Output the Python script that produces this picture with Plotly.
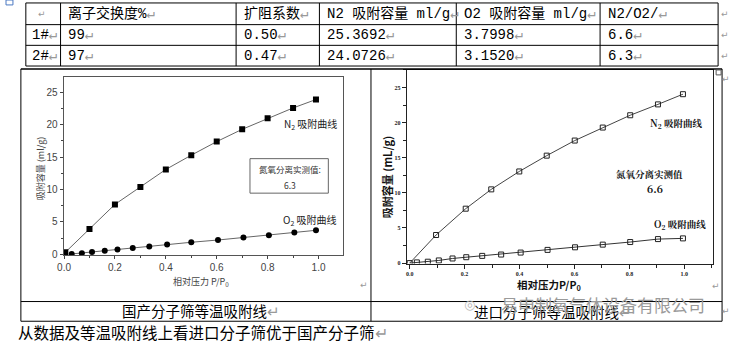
import plotly.graph_objects as go

W, H = 731, 343

# ---- table data ----
table_header = ["离子交换度%", "扩阻系数", "N2 吸附容量 ml/g", "O2 吸附容量 ml/g", "N2/O2/"]
row_labels = ["1#", "2#"]
exchange_pct = ["99", "97"]
diffusion_coef = ["0.50", "0.47"]
n2_capacity = ["25.3692", "24.0726"]
o2_capacity = ["3.7998", "3.1520"]
n2_o2_ratio = ["6.6", "6.3"]

# ---- isotherm data: domestic sieve ----
dom_n2_x = [0.005, 0.1, 0.2, 0.3, 0.4, 0.5, 0.6, 0.7, 0.8, 0.9, 0.99]
dom_n2_y = [0.3, 3.9, 7.7, 10.4, 13.1, 15.3, 17.4, 19.3, 21.0, 22.6, 23.9]
dom_o2_x = [0.03, 0.07, 0.11, 0.16, 0.21, 0.27, 0.335, 0.405, 0.5, 0.605, 0.705, 0.805, 0.905, 0.99]
dom_o2_y = [0.05, 0.15, 0.35, 0.55, 0.75, 0.95, 1.2, 1.5, 1.85, 2.2, 2.6, 2.95, 3.35, 3.7]

# ---- isotherm data: imported sieve ----
imp_n2_x = [0.0, 0.096, 0.204, 0.297, 0.399, 0.499, 0.601, 0.703, 0.803, 0.904, 0.995]
imp_n2_y = [0.0, 4.0, 7.75, 10.5, 13.05, 15.3, 17.45, 19.3, 21.05, 22.6, 24.05]
imp_o2_x = [0.0, 0.026, 0.066, 0.106, 0.156, 0.206, 0.264, 0.333, 0.404, 0.502, 0.602, 0.703, 0.803, 0.904, 0.995]
imp_o2_y = [0.0, 0.1, 0.2, 0.38, 0.66, 0.84, 1.03, 1.22, 1.5, 1.88, 2.25, 2.63, 3.0, 3.42, 3.52]

x_ticks = [0.0, 0.2, 0.4, 0.6, 0.8, 1.0]
y_ticks = [0, 5, 10, 15, 20, 25]


def px(x):
    return x / W


def py(y):
    return 1 - y / H


fig = go.Figure()

# domestic chart
fig.add_trace(go.Scatter(x=dom_n2_x, y=dom_n2_y, mode="lines+markers", line=dict(color="#666", width=1),
                         marker=dict(symbol="square", size=6, color="black"), xaxis="x", yaxis="y",
                         showlegend=False))
fig.add_trace(go.Scatter(x=dom_o2_x, y=dom_o2_y, mode="lines+markers", line=dict(color="#666", width=1),
                         marker=dict(symbol="circle", size=6, color="black"), xaxis="x", yaxis="y",
                         showlegend=False))
# imported chart
fig.add_trace(go.Scatter(x=imp_n2_x, y=imp_n2_y, mode="lines+markers", line=dict(color="#444", width=1),
                         marker=dict(symbol="square-open", size=5, color="#222", line=dict(width=1)),
                         xaxis="x2", yaxis="y2", showlegend=False))
fig.add_trace(go.Scatter(x=imp_o2_x, y=imp_o2_y, mode="lines+markers", line=dict(color="#333", width=1),
                         marker=dict(symbol="square-open", size=5, color="#222", line=dict(width=1),
                                     opacity=[0] + [1] * (len(imp_o2_x) - 1)),
                         xaxis="x2", yaxis="y2", showlegend=False))

sans_tick = dict(family="Arial, Liberation Sans, sans-serif", size=10, color="#444")
serif_tick = dict(family="Liberation Serif, serif", size=6, color="#222", weight="bold")

fig.update_layout(
    width=W, height=H, margin=dict(l=0, r=0, t=0, b=0),
    paper_bgcolor="white", plot_bgcolor="white",
    xaxis=dict(domain=[px(58), px(340)], range=[-0.002, 1.097], tickvals=x_ticks,
               ticktext=[f"{v:.1f}" for v in x_ticks], ticks="outside", ticklen=3, tickcolor="#444",
               minor=dict(dtick=0.1, tick0=0, ticks="outside", ticklen=2, tickcolor="#444"),
               showline=True, linecolor="#555", linewidth=1, mirror=True, showgrid=False, zeroline=False,
               tickfont=sans_tick, anchor="y"),
    yaxis=dict(domain=[py(259), py(78)], range=[-0.15, 27.4], tickvals=y_ticks, ticks="outside", ticklen=3,
               tickcolor="#444", minor=dict(dtick=2.5, tick0=0, ticks="outside", ticklen=2, tickcolor="#444"),
               showline=True, linecolor="#555", linewidth=1, mirror=True, showgrid=False, zeroline=False,
               tickfont=sans_tick, anchor="x"),
    xaxis2=dict(domain=[px(404), px(713)], range=[-0.011, 1.105], tickvals=x_ticks,
                ticktext=[f"{v:.1f}" for v in x_ticks], ticks="outside", ticklen=4, tickcolor="#222",
                minor=dict(dtick=0.1, tick0=0, ticks="outside", ticklen=3, tickcolor="#222"),
                showline=True, linecolor="#222", linewidth=1, mirror=True, showgrid=False, zeroline=False,
                tickfont=serif_tick, anchor="y2"),
    yaxis2=dict(domain=[py(267.5), py(71)], range=[-0.07, 27.5], tickvals=y_ticks, ticks="outside", ticklen=4,
                tickcolor="#222", minor=dict(dtick=2.5, tick0=0, ticks="outside", ticklen=3, tickcolor="#222"),
                showline=True, linecolor="#222", linewidth=1, mirror=True, showgrid=False, zeroline=False,
                tickfont=serif_tick, anchor="x2"),
)

# ---- table grid ----
shapes = []


def hline(x0, x1, y, w=1):
    shapes.append(dict(type="line", xref="paper", yref="paper", x0=px(x0), x1=px(x1), y0=py(y), y1=py(y),
                       line=dict(color="black", width=w)))


def vline(x, y0, y1, w=1):
    shapes.append(dict(type="line", xref="paper", yref="paper", x0=px(x), x1=px(x), y0=py(y0), y1=py(y1),
                       line=dict(color="black", width=w)))


col_x = [20, 55, 232, 316, 454, 599, 718]
row_y = [3, 25, 46, 67]
for y in row_y:
    hline(col_x[0], col_x[-1], y)
for x in col_x:
    vline(x, row_y[0], row_y[-1])

# lower table
hline(15, 722, 70, 1.5)
hline(15, 722, 306)
hline(15, 722, 326)
vline(15, 70, 326)
vline(368, 70, 326)
vline(722, 70, 326)

# table move handle
shapes.append(dict(type="rect", xref="paper", yref="paper", x0=px(0), x1=px(7), y0=py(5), y1=py(0),
                   line=dict(color="#4a78c2", width=1), fillcolor="white"))
# resize handle of the picture
shapes.append(dict(type="rect", xref="paper", yref="paper", x0=px(716), x1=px(721), y0=py(76), y1=py(71),
                   line=dict(color="#555", width=1), fillcolor="white"))
# measured-value box in the domestic chart
shapes.append(dict(type="rect", xref="paper", yref="paper", x0=px(246), x1=px(325), y0=py(196), y1=py(161),
                   line=dict(color="#666", width=1), fillcolor="white"))

fig.update_layout(shapes=shapes)

ann = []
cell_font = dict(family="Liberation Mono, Noto Sans CJK SC, monospace", size=14, color="black")
mark_font = dict(family="DejaVu Sans, sans-serif", size=9, color="#999")
MARK = "↵"


def text(x, y, s, font, xanchor="left", angle=0):
    ann.append(dict(x=px(x), y=py(y), xref="paper", yref="paper", text=s, showarrow=False, font=font,
                    xanchor=xanchor, yanchor="middle", textangle=angle))


def cell(x, y, s, font):
    # cell text followed by its paragraph mark
    text(x, y, s + f'<span style="color:#999">{MARK}</span>', font)


# header row
text(30, 14, MARK, mark_font)
for cx, label in zip(col_x[1:-1], table_header):
    cell(cx + 6, 14, label, cell_font)
text(725, 14, MARK, mark_font, "center")

rows = list(zip(row_labels, exchange_pct, diffusion_coef, n2_capacity, o2_capacity, n2_o2_ratio))
for ry, row in zip([36, 57], rows):
    for cx, val in zip(col_x[:-1], row):
        cell(cx + 4 if cx == col_x[0] else cx + 6, ry, val, cell_font)
    text(725, ry, MARK, mark_font, "center")

# domestic chart texts
small_cjk = dict(family="Noto Sans CJK SC, sans-serif", size=9, color="#444")
text(35, 171, "吸附容量 (ml/g)", small_cjk, "center", -90)
text(197, 286, "相对压力 P/P<sub>0</sub>", small_cjk, "center")
label_cjk = dict(family="Noto Sans CJK SC, sans-serif", size=10, color="#222")
text(278, 126, "N<sub>2</sub> 吸附曲线", label_cjk)
text(277, 223, "O<sub>2</sub> 吸附曲线", label_cjk)
box_font = dict(family="Noto Sans CJK SC, sans-serif", size=8.5, color="#333")
text(286, 172, "氮氧分离实测值:", box_font, "center")
text(286, 188, "6.3", box_font, "center")
text(361, 289, MARK, mark_font, "center")

# imported chart texts
bold_cjk = dict(family="Noto Sans CJK SC, sans-serif", size=11, color="#111", weight="bold")
text(385, 180, "吸附容量 (mL/g)", bold_cjk, "center", -90)
text(547, 289, "相对压力P/P<sub>0</sub>", dict(bold_cjk, size=10.5), "center")
lab2 = dict(family="Noto Serif CJK SC, Noto Sans CJK SC, serif", size=9.5, color="#111", weight="bold")
text(647, 125, "N<sub>2</sub> 吸附曲线", lab2)
text(649, 177, "氮氧分离实测值", lab2, "center")
text(654, 191, "6.6", dict(lab2, size=10.5), "center")
text(651, 228, "O<sub>2</sub> 吸附曲线", lab2)
text(726, 80, MARK, mark_font, "center")
text(716, 290, MARK, mark_font, "center")

# captions
cap_font = dict(family="Noto Sans CJK SC, sans-serif", size=14.5, color="black")
cell(115, 315, "国产分子筛等温吸附线", cap_font)
cell(470, 316, "进口分子筛等温吸附线", cap_font)
text(602, 309, "易申制氧气体设备有限公司", dict(family="Noto Sans CJK SC, sans-serif", size=17, color="#9a9a9a"),
     "center")
text(467, 309, "◎", dict(family="DejaVu Sans", size=13, color="#bbbbbb"), "center")
text(726, 316, MARK, mark_font, "center")

# closing remark
cell(10, 337, "从数据及等温吸附线上看进口分子筛优于国产分子筛", dict(family="Noto Sans CJK SC, sans-serif", size=15.5,
                                                           color="black"))

fig.update_layout(annotations=ann)
fig.write_html("out.html")
